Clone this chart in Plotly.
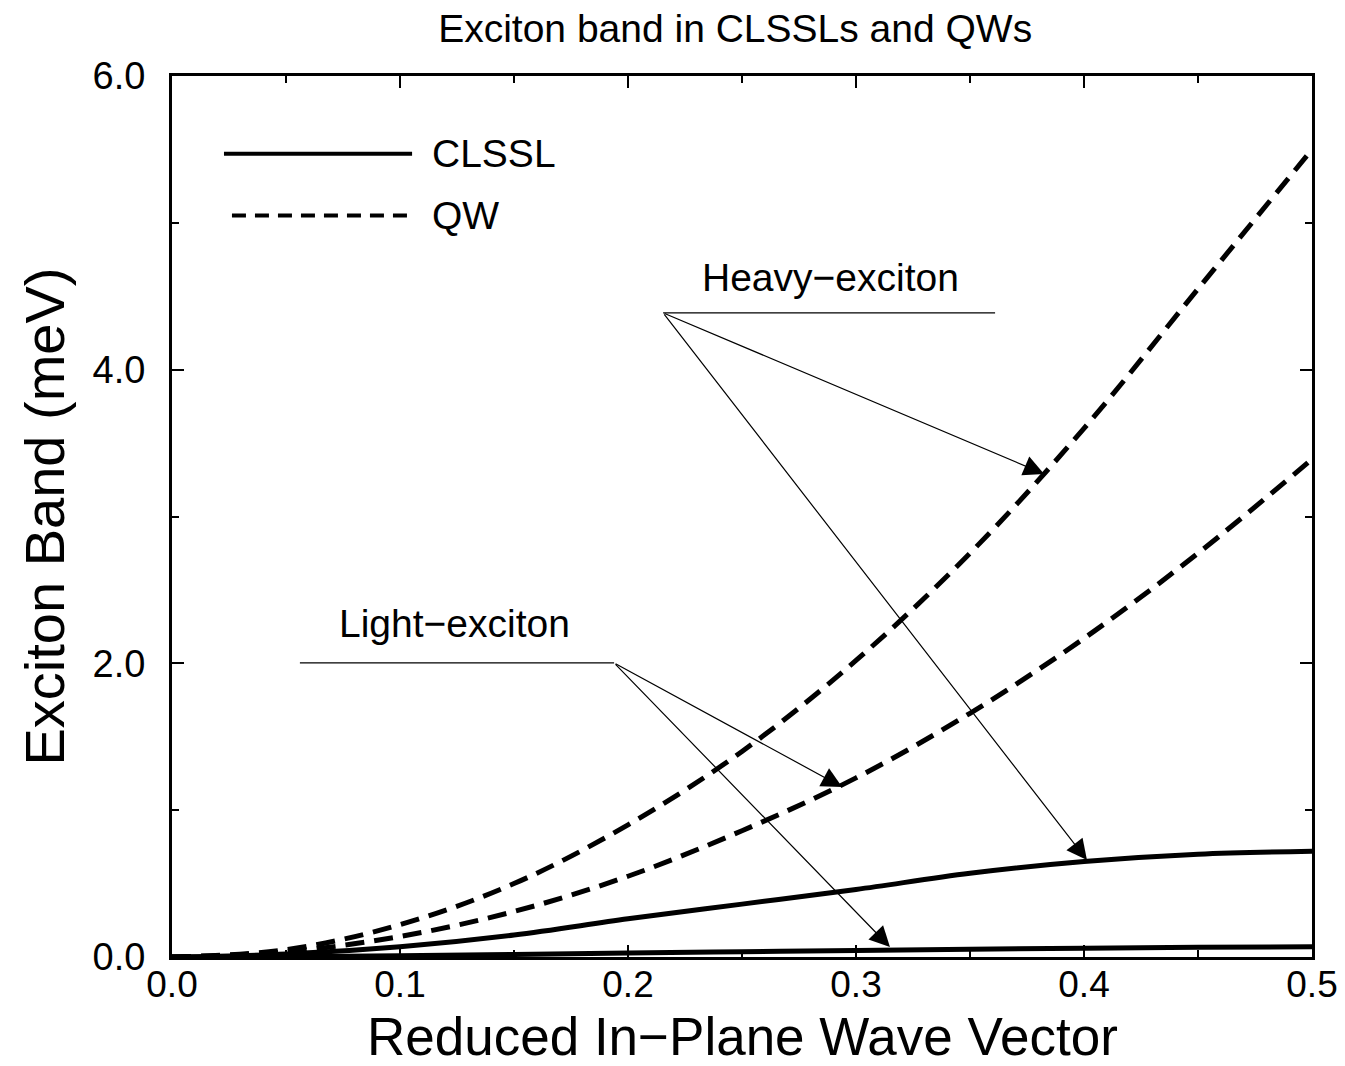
import plotly.graph_objects as go

# ---- data ----
k = [0.0, 0.05, 0.10, 0.15, 0.20, 0.25, 0.30, 0.35, 0.40, 0.45, 0.50]
qw_heavy = [0.0, 0.05, 0.22, 0.50, 0.90, 1.40, 2.02, 2.75, 3.60, 4.55, 5.50]
qw_light = [0.0, 0.035, 0.14, 0.31, 0.55, 0.86, 1.22, 1.66, 2.17, 2.75, 3.39]
clssl_heavy = [0.0, 0.02, 0.07, 0.15, 0.26, 0.36, 0.46, 0.57, 0.65, 0.70, 0.72]
clssl_light = [0.0, 0.002, 0.008, 0.017, 0.027, 0.036, 0.045, 0.053, 0.060, 0.066, 0.070]

title_text = "Exciton band in CLSSLs and QWs"
x_title = "Reduced In\u2212Plane Wave Vector"
y_title = "Exciton Band (meV)"
legend_labels = ["CLSSL", "QW"]
x_ticks = [0.0, 0.1, 0.2, 0.3, 0.4, 0.5]
y_ticks = [0.0, 2.0, 4.0, 6.0]

FONT = "Liberation Sans, Arial, Helvetica, sans-serif"
DASH = "19px,10px"

fig = go.Figure()
for ys, dash in [(qw_heavy, DASH), (qw_light, DASH), (clssl_heavy, "solid"), (clssl_light, "solid")]:
    fig.add_trace(go.Scatter(x=k, y=ys, mode="lines", line=dict(color="black", width=5, dash=dash, shape="spline"),
                             showlegend=False, hoverinfo="skip"))

# legend drawn manually
fig.add_shape(type="line", xref="x", yref="y", x0=0.0228, x1=0.1053, y0=5.47, y1=5.47,
              line=dict(color="black", width=4))
fig.add_shape(type="line", xref="x", yref="y", x0=0.0263, x1=0.1039, y0=5.05, y1=5.05,
              line=dict(color="black", width=4, dash="14px,9px"))
fig.add_annotation(x=0.113, y=5.47, xref="x", yref="y", text=legend_labels[0], showarrow=False,
                   xanchor="left", yanchor="middle", font=dict(family=FONT, size=39, color="black"))
fig.add_annotation(x=0.113, y=5.05, xref="x", yref="y", text=legend_labels[1], showarrow=False,
                   xanchor="left", yanchor="middle", font=dict(family=FONT, size=39, color="black"))

# labels with leader lines and arrows
fig.add_shape(type="line", xref="x", yref="y", x0=0.2154, x1=0.361, y0=4.387, y1=4.387,
              line=dict(color="black", width=1.2))
fig.add_shape(type="line", xref="x", yref="y", x0=0.0561, x1=0.1939, y0=2.003, y1=2.003,
              line=dict(color="black", width=1.2))
fig.add_annotation(x=0.2886, y=4.63, xref="x", yref="y", text="Heavy\u2212exciton", showarrow=False,
                   font=dict(family=FONT, size=39, color="black"))
fig.add_annotation(x=0.1241, y=2.27, xref="x", yref="y", text="Light\u2212exciton", showarrow=False,
                   font=dict(family=FONT, size=39, color="black"))

arrows = [
    (0.2154, 4.387, 0.3825, 3.29),
    (0.2154, 4.387, 0.4013, 0.66),
    (0.1939, 2.003, 0.2939, 1.158),
    (0.1939, 2.003, 0.3149, 0.068),
]
for ax_, ay_, x_, y_ in arrows:
    fig.add_annotation(x=x_, y=y_, ax=ax_, ay=ay_, xref="x", yref="y", axref="x", ayref="y",
                       text="", showarrow=True, arrowhead=2, arrowsize=3.4, arrowwidth=1.2,
                       arrowcolor="black", standoff=0)

# x-axis title as a paper annotation so it sits like the reference
fig.add_annotation(x=0.5, y=-0.090, xref="paper", yref="paper", text=x_title, showarrow=False,
                   xanchor="center", yanchor="middle", font=dict(family=FONT, size=53, color="black"))

axis_common = dict(showline=True, linecolor="black", linewidth=3, mirror="allticks", ticks="inside",
                   tickcolor="black", tickwidth=2, ticklen=12, showgrid=False, zeroline=False,
                   tickformat=".1f")

fig.update_xaxes(range=[0, 0.5], tickvals=x_ticks, ticklabelstandoff=-7,
                 tickfont=dict(family=FONT, size=37, color="black"),
                 minor=dict(dtick=0.05, ticks="inside", ticklen=7, tickwidth=2, tickcolor="black", showgrid=False),
                 **axis_common)
fig.update_yaxes(range=[0, 6], tickvals=y_ticks, ticklabelstandoff=16,
                 tickfont=dict(family=FONT, size=38, color="black"),
                 minor=dict(dtick=1.0, ticks="inside", ticklen=7, tickwidth=2, tickcolor="black", showgrid=False),
                 title=dict(text=y_title, font=dict(family=FONT, size=56, color="black"), standoff=10),
                 **axis_common)

fig.update_layout(
    width=1345, height=1066,
    margin=dict(l=164, r=41, t=68, b=117),
    paper_bgcolor="white", plot_bgcolor="white",
    title=dict(text=title_text, x=0.494, xref="paper", y=0.981, yref="container", yanchor="middle",
               font=dict(family=FONT, size=39, color="black")),
    showlegend=False,
)

fig.write_html("out.html")
